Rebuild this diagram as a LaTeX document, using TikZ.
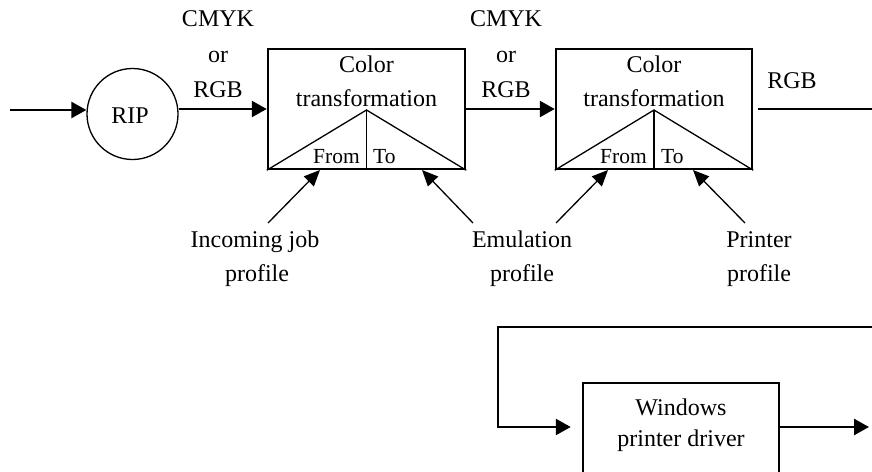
\documentclass[tikz,border=0pt]{standalone}
\usepackage{fontspec}
\setmainfont{Liberation Serif}
\usetikzlibrary{arrows.meta,calc}
\begin{document}
\begin{tikzpicture}[x=1pt,y=-1pt,
  heavy/.style={line width=2.5pt},
  thinln/.style={line width=1.3pt},
  bigtip/.style={-{Triangle[length=15pt,width=16pt]}},
  smalltip/.style={-{Triangle[length=16pt,width=14pt]}},
  lbl/.style={font=\fontsize{24}{35}\selectfont, inner sep=0pt, anchor=base},
  slbl/.style={font=\fontsize{21.5}{25}\selectfont, inner sep=0pt},
  boxnode/.style={draw, heavy, inner sep=0pt, minimum width=197pt}
]
\useasboundingbox (0,0) rectangle (872,471);

% RIP
\node[draw, thinln, circle, minimum size=91pt, inner sep=0pt] (rip) at (132.5,114) {};
\node[lbl] (riptxt) at (130,123) {RIP};
\coordinate (in) at (10,110);

% boxes
\node[boxnode, minimum height=120pt] (b1) at (366.5,109) {};
\node[boxnode, minimum height=120pt, minimum width=196pt] (b2) at (654,109) {};
\node[boxnode, minimum height=92pt, minimum width=196pt] (b3) at (681,429) {};

\coordinate (a1) at (366.5,110);
\coordinate (a2) at (654,110);
\draw[thinln] (b1.south west) -- (a1) -- (b1.south east);
\draw[thinln] (a1) -- (b1.south);
\draw[thinln] (b2.south west) -- (a2) -- (b2.south east);
\draw[thinln] (a2) -- (b2.south);

% box texts
\node[lbl] (c1) at (366.5,72) {Color};
\node[lbl] (t1) at (366.5,106) {transformation};
\node[slbl, anchor=base east] (f1) at (360,163) {From};
\node[slbl, anchor=base west] (o1) at (373,163) {To};
\node[lbl] (c2) at (654,72) {Color};
\node[lbl] (t2) at (654,106) {transformation};
\node[slbl, anchor=base east] (f2) at (647,163) {From};
\node[slbl, anchor=base west] (o2) at (661,163) {To};
\node[lbl] (w1) at (681,415) {Windows};
\node[lbl] (w2) at (681,446) {printer driver};

% top labels
\node[lbl] (k1) at (218,27) {CMYK};
\node[lbl] (r1) at (218,62) {or};
\node[lbl] (g1) at (218,97) {RGB};
\node[lbl] (k2) at (506,27) {CMYK};
\node[lbl] (r2) at (506,62) {or};
\node[lbl] (g2) at (506,97) {RGB};
\node[lbl] (g3) at (792,88) {RGB};

% profile labels
\node[lbl] (ij) at (255,247) {Incoming job};
\node[lbl] (ijp) at (257,281) {profile};
\node[lbl] (em) at (522,247) {Emulation};
\node[lbl] (emp) at (522,281) {profile};
\node[lbl] (pr) at (759,247) {Printer};
\node[lbl] (prp) at (759,281) {profile};

% main flow
\draw[heavy, bigtip] (in) -- (in -| rip.west);
\draw[heavy, bigtip] (rip.east |- b1.west) -- (b1.west);
\draw[heavy, bigtip] (b1.east) -- (b2.west);
\coordinate (out) at (872,109);
\draw[heavy] ([xshift=5pt]b2.east) -- (out);

% profile arrows
\coordinate (s1) at (268,223); \coordinate (e1) at (320,170);
\coordinate (s2) at (473,223); \coordinate (e2) at (422,170);
\coordinate (s3) at (556,223); \coordinate (e3) at (608,170);
\coordinate (s4) at (745,223); \coordinate (e4) at (693,170);
\draw[thinln, smalltip] (s1) -- (e1);
\draw[thinln, smalltip] (s2) -- (e2);
\draw[thinln, smalltip] (s3) -- (e3);
\draw[thinln, smalltip] (s4) -- (e4);

% bottom loop
\coordinate (loopin) at (872,327);
\coordinate (lc) at (498,427);
\draw[heavy, bigtip] (loopin) -- (loopin -| lc) -- (lc) -- ([xshift=-11pt]b3.west |- lc);
\coordinate (outb) at (869,427);
\draw[heavy, bigtip] (b3.east |- lc) -- (outb);
\end{tikzpicture}
\end{document}
